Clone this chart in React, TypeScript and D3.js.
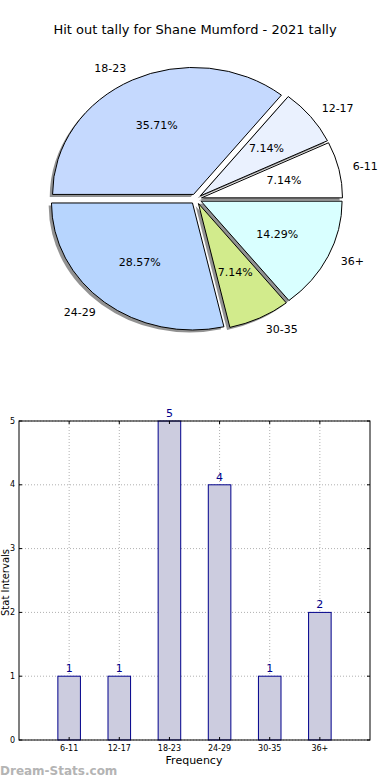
import * as d3 from 'd3'

const categories = ['6-11', '12-17', '18-23', '24-29', '30-35', '36+']
const counts = [1, 1, 5, 4, 1, 2]
const sliceColors = ['#ffffff', '#eaf1fe', '#c5d9fe', '#b7d5fe', '#d2eb8c', '#d9ffff']
const yTicks = [0, 1, 2, 3, 4, 5]

const W = 390
const H = 780
const FONT = 'DejaVu Sans, sans-serif'

function Pie() {
  const cx = 196
  const cy = 199
  const rx = 141
  const ry = 127
  const explode = 0.04
  const total = d3.sum(counts)

  const pie = d3.pie<number>().sort(null).startAngle(Math.PI / 2).endAngle(Math.PI / 2 - 2 * Math.PI)
  const arcs = pie(counts)
  const arc = d3.arc<d3.PieArcDatum<number>>().innerRadius(0).outerRadius(1)

  const mid = (a: d3.PieArcDatum<number>) => (a.startAngle + a.endAngle) / 2
  const off = (a: d3.PieArcDatum<number>, k: number) => {
    const m = mid(a)
    return [cx + k * rx * Math.sin(m), cy - k * ry * Math.cos(m)]
  }

  return (
    <g>
      {/* shadows */}
      {arcs.map((a, i) => {
        const [ox, oy] = off(a, explode)
        return (
          <path key={'s' + i} d={arc(a) ?? ''}
            transform={`translate(${ox - 0.02 * rx},${oy + 0.02 * ry}) scale(${rx},${ry})`}
            fill="#6e6e6e" opacity={0.75} />
        )
      })}
      {arcs.map((a, i) => {
        const [ox, oy] = off(a, explode)
        return (
          <path key={'w' + i} d={arc(a) ?? ''}
            transform={`translate(${ox},${oy}) scale(${rx},${ry})`}
            fill={sliceColors[i]} stroke="#000" strokeWidth={1}
            vectorEffect="non-scaling-stroke" />
        )
      })}
      {arcs.map((a, i) => {
        const [px, py] = off(a, explode + 0.6)
        const [lx, ly] = off(a, explode + 1.1)
        const anchor = Math.sin(mid(a)) < 0 ? 'end' : 'start'
        return (
          <g key={'t' + i} fontFamily={FONT} fontSize={11} fill="#000">
            <text x={px} y={py} textAnchor="middle" dominantBaseline="central">
              {((counts[i] / total) * 100).toFixed(2)}%
            </text>
            <text x={lx} y={ly} textAnchor={anchor} dominantBaseline="central">
              {categories[i]}
            </text>
          </g>
        )
      })}
    </g>
  )
}

function Bars() {
  const left = 19
  const right = 370
  const top = 421
  const bottom = 740
  const x = d3.scaleLinear().domain([-1, 6]).range([left, right])
  const y = d3.scaleLinear().domain([0, 5]).range([bottom, top])
  const bw = x(0.45) - x(0)
  const navy = '#00008b'

  return (
    <g fontFamily={FONT}>
      {/* grid */}
      {categories.map((c, i) => (
        <line key={'gx' + c} x1={x(i)} x2={x(i)} y1={top} y2={bottom}
          stroke="#b0b0b0" strokeDasharray="1,2" />
      ))}
      {yTicks.map(t => (
        <line key={'gy' + t} x1={left} x2={right} y1={y(t)} y2={y(t)}
          stroke="#b0b0b0" strokeDasharray="1,2" />
      ))}
      {/* bars */}
      {counts.map((v, i) => (
        <g key={'b' + i}>
          <rect x={x(i) - bw / 2} y={y(v)} width={bw} height={y(0) - y(v)}
            fill="#ccccdf" stroke={navy} strokeWidth={1} />
          <text x={x(i)} y={y(v) - 4} textAnchor="middle" fontSize={11} fill={navy}>{v}</text>
        </g>
      ))}
      {/* frame */}
      <rect x={left} y={top} width={right - left} height={bottom - top}
        fill="none" stroke="#000" strokeWidth={1} />
      {/* ticks */}
      {categories.map((c, i) => (
        <g key={'tx' + c}>
          <line x1={x(i)} x2={x(i)} y1={bottom} y2={bottom - 3} stroke="#000" />
          <line x1={x(i)} x2={x(i)} y1={top} y2={top + 3} stroke="#000" />
          <text x={x(i)} y={751} textAnchor="middle" fontSize={8} fill="#000">{c}</text>
        </g>
      ))}
      {yTicks.map(t => (
        <g key={'ty' + t}>
          <line x1={left} x2={left + 3} y1={y(t)} y2={y(t)} stroke="#000" />
          <line x1={right} x2={right - 3} y1={y(t)} y2={y(t)} stroke="#000" />
          <text x={15} y={y(t)} textAnchor="end" dominantBaseline="central" fontSize={8} fill="#000">{t}</text>
        </g>
      ))}
      <text x={194} y={764} textAnchor="middle" fontSize={11} fill="#000">Frequency</text>
      <text transform={`translate(9,${(top + bottom) / 2 + 2}) rotate(-90)`} textAnchor="middle"
        fontSize={10} fill="#000">Stat Intervals</text>
    </g>
  )
}

export default function App() {
  return (
    <div style={{ position: 'absolute', left: 0, top: 0 }}>
      <svg width={W} height={H} style={{ display: 'block', background: '#fff' }}>
        <text x={195} y={34} textAnchor="middle" fontFamily={FONT} fontSize={13} fill="#000">
          Hit out tally for Shane Mumford - 2021 tally
        </text>
        <Pie />
        <Bars />
        <text x={0} y={775} fontFamily={FONT} fontSize={12} fontWeight="bold" fill="#b4b4b4">
          Dream-Stats.com
        </text>
      </svg>
    </div>
  )
}
